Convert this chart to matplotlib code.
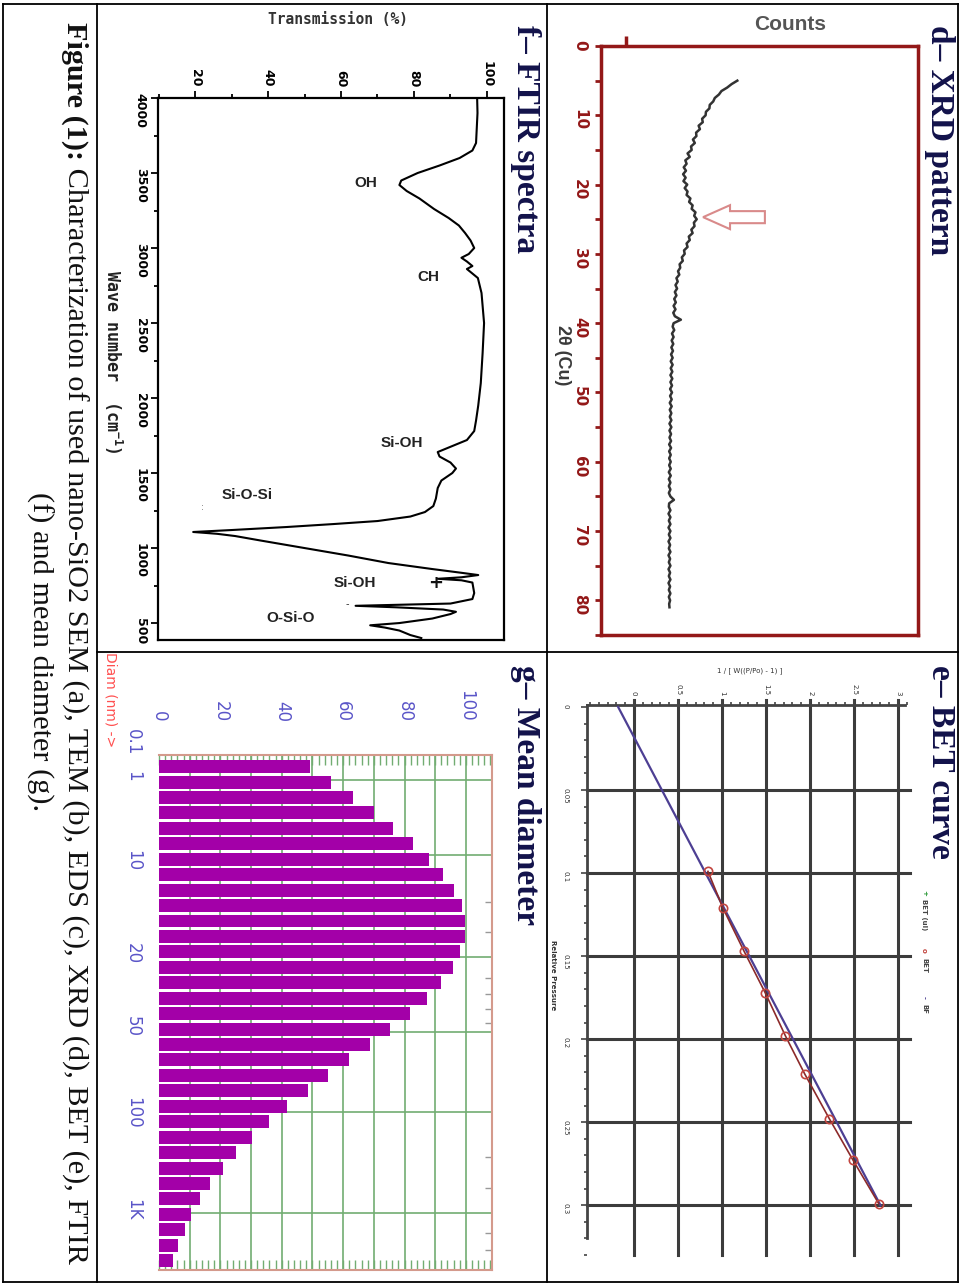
import matplotlib
matplotlib.use('Agg')
import matplotlib.pyplot as plt
from matplotlib.lines import Line2D
from matplotlib.patches import FancyArrow
from matplotlib.ticker import MultipleLocator, FixedLocator, NullFormatter
import matplotlib.transforms as mtrans

# ---------------- data ----------------
# XRD (d): 2-theta sampled every 0.5 degree from 5 to 81
xrd_2theta = [5 + 0.5 * i for i in range(153)]
xrd_counts = [43.0, 41.2, 39.8, 38.0, 37.2, 35.9, 35.4, 34.3, 34.2, 33.1,
              33.0, 31.9, 32.1, 30.8, 31.2, 30.0, 30.1, 29.0, 29.6, 28.4,
              28.6, 27.3, 28.0, 26.6, 27.0, 26.1, 26.8, 25.9, 26.7, 26.0,
              27.2, 26.4, 27.3, 27.0, 28.2, 27.8, 28.9, 28.6, 29.8, 29.4,
              30.2, 29.3, 29.5, 28.5, 28.9, 27.7, 28.0, 27.0, 27.3, 26.2,
              26.4, 25.5, 25.8, 24.8, 25.0, 24.3, 24.7, 23.8, 24.2, 23.5,
              24.0, 23.3, 23.8, 23.1, 23.6, 22.9, 23.5, 22.8, 23.3, 25.2,
              22.9, 22.6, 23.1, 22.4, 22.9, 22.3, 22.8, 22.2, 22.7, 22.1,
              22.6, 22.0, 22.6, 22.0, 22.5, 21.9, 22.5, 21.9, 22.4, 21.8,
              22.4, 21.8, 22.3, 21.7, 22.3, 21.7, 22.2, 21.7, 22.2, 21.6,
              22.2, 21.6, 22.1, 21.6, 22.1, 21.5, 22.1, 21.5, 22.0, 21.5,
              22.0, 21.5, 22.0, 21.4, 22.0, 21.4, 21.9, 21.4, 21.9, 21.4,
              21.9, 23.0, 21.5, 21.4, 21.9, 21.3, 21.9, 21.4, 21.9, 21.3,
              21.9, 21.4, 21.9, 21.3, 21.8, 21.4, 21.9, 21.3, 21.8, 21.4,
              21.9, 21.3, 21.8, 21.4, 21.9, 21.3, 21.8, 21.4, 21.9, 21.4,
              21.8, 21.5, 21.6]
xrd_ticks = [0, 10, 20, 30, 40, 50, 60, 70, 80]
xrd_peak = 24.7

# BET (e)
bet_p = [0.099, 0.121, 0.147, 0.172, 0.198, 0.221, 0.248, 0.273, 0.299]
bet_v = [0.84, 1.01, 1.25, 1.49, 1.72, 1.94, 2.22, 2.49, 2.78]
bf_p = [0.0, 0.30]
bf_v = [-0.18, 2.80]
bet_vticks = [0, 0.5, 1, 1.5, 2, 2.5, 3]
bet_vlabels = ['0', '0.5', '1', '1.5', '2', '2.5', '3']
bet_pticks = [0, 0.05, 0.1, 0.15, 0.2, 0.25, 0.3]
bet_plabels = ['0', '0.05', '0.1', '0.15', '0.2', '0.25', '0.3']

# FTIR (f)
ftir_wn = [4000, 3900, 3800, 3700, 3650, 3600, 3550, 3500, 3450, 3420,
           3380, 3330, 3260, 3200, 3150, 3100, 3050, 3000, 2960, 2935,
           2910, 2880, 2860, 2840, 2800, 2700, 2500, 2300, 2100, 1950,
           1850, 1780, 1720, 1680, 1640, 1610, 1570, 1530, 1500, 1450,
           1400, 1330, 1280, 1240, 1210, 1180, 1160, 1140, 1120, 1107,
           1095, 1080, 1050, 1000, 950, 900, 860, 835, 820, 805,
           795, 785, 770, 700, 660, 630, 615, 605, 590, 575,
           560, 530, 500, 485, 470, 450, 420, 400]
ftir_t = [97.3, 97.4, 97.2, 97.0, 96.0, 92.5, 87.0, 81.0, 76.5, 76.0,
          78.0, 81.5, 85.5, 89.5, 92.3, 94.0, 95.5, 96.5, 95.0, 93.0,
          94.5, 96.0, 94.5, 95.5, 97.5, 98.5, 99.2, 98.8, 98.3, 97.6,
          97.0, 96.5, 94.5, 90.5, 86.5, 87.0, 90.0, 91.5, 90.5, 87.5,
          86.5, 86.0, 85.3, 83.0, 79.0, 70.0, 58.0, 45.0, 30.0, 19.5,
          26.0, 31.0, 38.0, 50.0, 62.0, 73.0, 85.0, 93.0, 97.6, 93.0,
          86.5, 93.0, 96.0, 96.5, 96.0, 90.0, 64.0, 75.0, 88.0, 91.5,
          90.0, 85.0, 76.0, 68.0, 72.0, 76.0, 79.0, 82.0]
ftir_wticks = [4000, 3500, 3000, 2500, 2000, 1500, 1000, 500]
ftir_tticks = [20, 40, 60, 80, 100]
ftir_bands = ['OH', 'CH', 'Si-OH', 'Si-O-Si', 'Si-OH', 'O-Si-O']

# Mean diameter (g)
diam_values = [49.3, 56.1, 63.1, 69.9, 76.4, 82.7, 88.1, 92.6, 96.2, 98.6,
               99.7, 99.7, 98.2, 95.7, 91.9, 87.2, 81.8, 75.4, 68.9, 62.0,
               55.2, 48.5, 41.8, 35.8, 30.3, 25.2, 20.8, 16.7, 13.5, 10.5,
               8.4, 6.3, 4.6]
diam_labels = ['0.1', '1', '10', '20', '50', '100', '1K']
diam_label_pos = [-1.6, 0.6, 6.1, 12.1, 16.8, 22.4, 28.7]
diam_grid_pos = [0.9, 5.7, 12.3, 17.2, 22.4, 28.9]
pct_ticks = [0, 20, 40, 60, 80, 100]

caption_bold = 'Figure (1):'
caption_rest = ' Characterization of used nano-SiO2 SEM (a), TEM (b), EDS (c), XRD (d), BET (e), FTIR'
caption_line2 = '(f) and mean diameter (g).'

# ---------------- figure ----------------
W, H = 960, 1286
fig = plt.figure(figsize=(W / 100, H / 100), dpi=100)


def rect(x0, y0, x1, y1):
    return [x0 / W, 1 - y1 / H, (x1 - x0) / W, (y1 - y0) / H]


def fx(x):
    return x / W


def fy(y):
    return 1 - y / H


# table lines
for (x0, y0, x1, y1) in [(3, 4, 958, 4), (3, 1282, 958, 1282), (3, 4, 3, 1282),
                         (958, 4, 958, 1282), (97, 4, 97, 1282), (547, 4, 547, 1282),
                         (97, 652, 958, 652)]:
    fig.add_artist(Line2D([fx(x0), fx(x1)], [fy(y0), fy(y1)], color='black', lw=1.3,
                          transform=fig.transFigure))

title_kw = dict(rotation=-90, ha='center', va='top', family='Liberation Serif',
                weight='bold', fontsize=24, color='#12124a')
fig.text(fx(940), fy(25), 'd\u2013 XRD pattern', **title_kw)
fig.text(fx(940), fy(665), 'e\u2013 BET curve', **title_kw)
fig.text(fx(525), fy(25), 'f\u2013 FTIR spectra', **title_kw)
fig.text(fx(525), fy(665), 'g\u2013 Mean diameter', **title_kw)

# ---------------- XRD ----------------
dred = '#931818'
axd = fig.add_axes(rect(601, 46, 918, 635))
axd.plot(xrd_counts, xrd_2theta, color='#333333', lw=1.8)
axd.set_xlim(0, 100)
axd.set_ylim(85, 0)
for s in axd.spines.values():
    s.set_color(dred)
    s.set_linewidth(2.5)
axd.yaxis.set_major_locator(FixedLocator(xrd_ticks))
axd.yaxis.set_minor_locator(MultipleLocator(5))
axd.tick_params(axis='y', which='both', left=True, right=False, direction='out',
                color=dred, width=2, length=4, labelcolor=dred, labelsize=11,
                labelrotation=-90, pad=6)
for lab in axd.get_yticklabels():
    lab.set_fontweight('bold')
axd.xaxis.set_ticks_position('top')
axd.set_xticks([8])
axd.xaxis.set_major_formatter(NullFormatter())
axd.tick_params(axis='x', which='major', direction='out', color=dred, width=2.5, length=7)
axd.add_patch(FancyArrow(51.7, xrd_peak, -19.5, 0, width=1.74, head_width=3.46,
                         head_length=8.5, length_includes_head=True, fill=False,
                         ec='#d98a8a', lw=1.5))
fig.text(fx(790), fy(24), 'Counts', ha='center', va='center', fontsize=15,
         family='Liberation Sans', weight='bold', color='#555555')
fig.text(fx(563), fy(355), '2\u03b8 (Cu)', rotation=-90, ha='center', va='center',
         fontsize=13, family='Liberation Sans', weight='bold', color='#3a3a3a')

# ---------------- BET ----------------
axb = fig.add_axes(rect(587, 705, 910, 1255))
axb.set_xlim(-0.534, 3.136)
axb.set_ylim(0.330, -0.0012)
axb.spines['right'].set_visible(False)
axb.spines['bottom'].set_visible(False)
axb.spines['left'].set_bounds(-0.0012, 0.32)
axb.spines['top'].set_bounds(-0.534, 3.08)
for s in ('left', 'top'):
    axb.spines[s].set_color('#444444')
    axb.spines[s].set_linewidth(2)
gcol = '#3c3c3c'
for v in bet_vticks:
    axb.plot([v, v], [-0.004, 0.330], color=gcol, lw=2.2, clip_on=False, zorder=1)
for p in bet_pticks[1:]:
    axb.plot([-0.534, 3.136], [p, p], color=gcol, lw=2.2, clip_on=False, zorder=1)
axb.plot(bf_v, bf_p, color='#4d3f93', lw=1.6, zorder=3)
axb.plot(bet_v, bet_p, color='#8c2a2a', lw=1.2, zorder=4, marker='o', ms=6,
         mfc='none', mec='#c2453f', mew=1.2)
axb.xaxis.set_ticks_position('top')
axb.set_xticks(bet_vticks)
axb.set_xticklabels(bet_vlabels)
axb.xaxis.set_minor_locator(MultipleLocator(0.1))
axb.set_yticks(bet_pticks)
axb.set_yticklabels(bet_plabels)
axb.yaxis.set_minor_locator(MultipleLocator(0.01))
axb.tick_params(axis='both', which='both', direction='out', color='#444444', width=1.2,
                labelsize=5, labelrotation=-90, labelcolor='#333333')
axb.tick_params(axis='x', which='major', length=4, pad=3)
axb.tick_params(axis='y', which='major', length=4, pad=9)
axb.tick_params(axis='both', which='minor', length=2.5)
fig.text(fx(750), fy(671), '1 / [ W((P/Po) - 1) ]', ha='center', va='center',
         fontsize=5, color='#333333')
fig.text(fx(553), fy(975), 'Relative Pressure', rotation=-90, ha='center', va='center',
         fontsize=5, color='#333333', weight='bold')
leg_kw = dict(rotation=-90, ha='center', va='top', fontsize=5, weight='bold')
fig.text(fx(924), fy(890), '+', color='#2e9a3a', **leg_kw)
fig.text(fx(924), fy(899), 'BET (ul)', color='#444444', **leg_kw)
fig.text(fx(924), fy(948), 'o', color='#c2453f', **leg_kw)
fig.text(fx(924), fy(958), 'BET', color='#444444', **leg_kw)
fig.text(fx(924), fy(996), '-', color='#4d3f93', **leg_kw)
fig.text(fx(924), fy(1004), 'BF', color='#444444', **leg_kw)

# ---------------- FTIR ----------------
axf = fig.add_axes(rect(158, 98, 504, 640))
axf.plot(ftir_t, ftir_wn, color='black', lw=1.5)
axf.set_xlim(9.86, 104.66)
axf.set_ylim(387, 4000)
for s in axf.spines.values():
    s.set_linewidth(1.6)
axf.set_yticks(ftir_wticks)
axf.yaxis.set_minor_locator(MultipleLocator(250))
axf.xaxis.set_ticks_position('top')
axf.set_xticks(ftir_tticks)
axf.xaxis.set_minor_locator(MultipleLocator(10))
axf.tick_params(axis='both', which='both', direction='out', width=1.3,
                labelsize=9, labelrotation=-90)
axf.tick_params(axis='both', which='major', length=5, pad=3)
axf.tick_params(axis='both', which='minor', length=3)
for lab in axf.get_xticklabels() + axf.get_yticklabels():
    lab.set_fontweight('bold')
fig.text(fx(338), fy(20), 'Transmission (%)', ha='center', va='center',
         family='DejaVu Sans Mono', fontsize=10.5, weight='bold', color='#333333')
fig.text(fx(113), fy(362), 'Wave number  (cm$^{\\mathregular{-1}}$)', rotation=-90,
         ha='center', va='center', family='DejaVu Sans Mono', fontsize=12,
         weight='bold', color='#222222')
band_xy = [(366, 183), (428, 277), (402, 443), (247, 495), (355, 583), (291, 618)]
for lab, (bx, by) in zip(ftir_bands, band_xy):
    fig.text(fx(bx), fy(by), lab, ha='center', va='center', fontsize=11,
             family='Liberation Sans', weight='bold', color='#222222')
fig.text(fx(436), fy(583), '+', ha='center', va='center', fontsize=13,
         weight='bold', color='#111111')
fig.text(fx(347), fy(604), '-', ha='center', va='center', fontsize=7, color='#333333')
fig.text(fx(202), fy(508), ':', ha='center', va='center', fontsize=6, color='#555555')

# ---------------- Mean diameter ----------------
axg = fig.add_axes(rect(159, 755, 492, 1270))
nb = len(diam_values)
axg.barh(list(range(nb)), diam_values, height=0.84, color='#a300a8', zorder=3)
axg.set_xlim(0, 108.5)
axg.set_ylim(32.6, -0.75)
green = '#72ad72'
for v in range(10, 101, 10):
    axg.axvline(v, color=green, lw=1.2, zorder=1)
for p in diam_grid_pos:
    axg.axhline(p, color=green, lw=1.2, zorder=1)
for s in axg.spines.values():
    s.set_color('#d49a8c')
    s.set_linewidth(1.5)
axg.spines['left'].set_visible(False)
axg.set_xticks(pct_ticks)
axg.xaxis.set_minor_locator(MultipleLocator(2))
axg.tick_params(axis='x', which='both', direction='in', top=True, bottom=True,
                labeltop=True, labelbottom=False, color=green, length=7, width=1,
                labelcolor='#5a55c8', labelsize=12, labelrotation=-90, pad=24)
axg.yaxis.set_ticks_position('right')
axg.set_yticks([])
axg.yaxis.set_minor_locator(FixedLocator([8.75, 10.7, 13.7, 14.7, 15.7, 16.6,
                                          25.3, 27.3, 30.2, 31.3]))
axg.tick_params(axis='y', which='minor', direction='in', color='#999999', length=5,
                width=1, right=True, left=False)
blend = mtrans.blended_transform_factory(axg.transAxes, axg.transData)
for lab, pos in zip(diam_labels, diam_label_pos):
    axg.text(-0.078, pos, lab, rotation=-90, ha='center', va='center', fontsize=12,
             color='#5a55c8', transform=blend, clip_on=False)
fig.text(fx(110), fy(700), 'Diam (nm) ->', rotation=-90, ha='center', va='center',
         fontsize=10, color='#ff5050')

# ---------------- caption ----------------
r = fig.canvas.get_renderer()
cap_fs = 18.5
probe_b = fig.text(0, 0, caption_bold, rotation=-90, family='Liberation Serif',
                   weight='bold', fontsize=cap_fs)
probe_r = fig.text(0, 0, caption_rest, rotation=-90, family='Liberation Serif',
                   fontsize=cap_fs)
span = probe_b.get_window_extent(r).height + probe_r.get_window_extent(r).height
probe_b.remove()
probe_r.remove()
cap_fs = cap_fs * (1265 - 22) / span
cap_kw = dict(rotation=-90, ha='center', va='top', family='Liberation Serif',
              fontsize=cap_fs, color='#111111')
t1 = fig.text(fx(75), fy(22), caption_bold, weight='bold', **cap_kw)
bb = t1.get_window_extent(r)
fig.text(fx(75), bb.y0 / H, caption_rest, **cap_kw)
fig.text(fx(40), fy(652), caption_line2, rotation=-90, ha='center', va='center',
         family='Liberation Serif', fontsize=cap_fs, color='#111111')

fig.savefig('out.png', dpi=100)
